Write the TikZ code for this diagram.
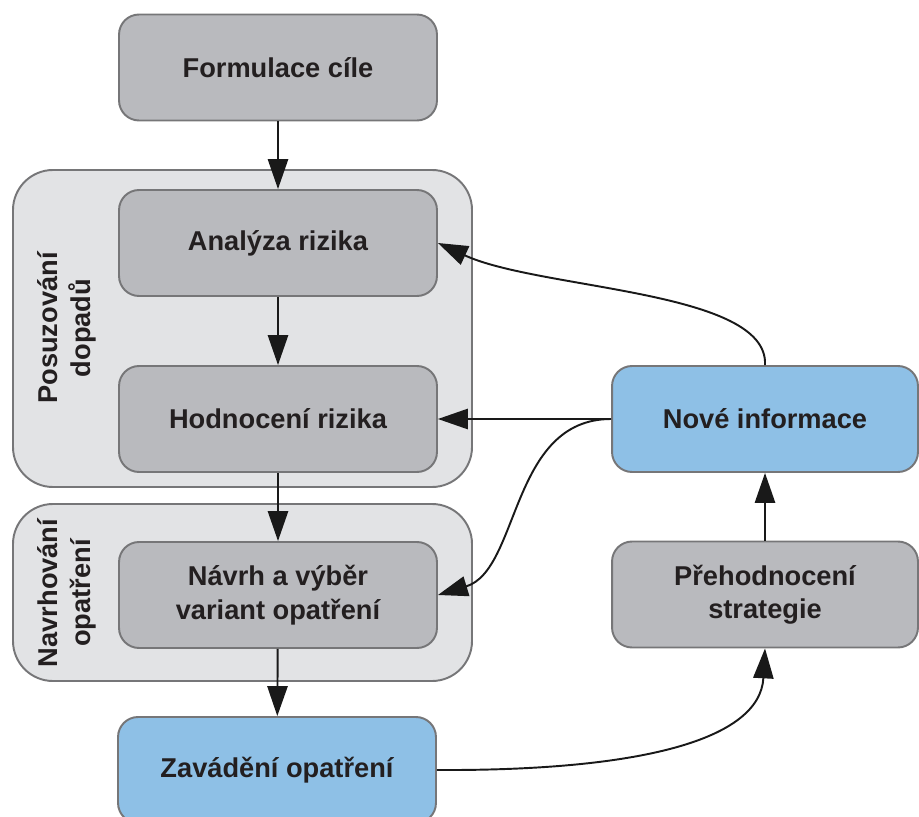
\documentclass[tikz,border=0pt]{standalone}
\usepackage{fontspec}
\setmainfont{Liberation Sans}
\usepackage{xcolor}
\usetikzlibrary{arrows.meta}
\definecolor{boxgray}{RGB}{185,186,190}
\definecolor{grpgray}{RGB}{226,227,229}
\definecolor{boxblue}{RGB}{142,192,230}
\definecolor{edgegray}{RGB}{118,118,120}
\definecolor{txtdark}{RGB}{35,31,32}

\begin{document}
\begin{tikzpicture}[x=0.02cm,y=-0.02cm,
    box/.style={draw=edgegray, line width=1.1pt, fill=boxgray, rounded corners=0.4cm,
      minimum width=6.36cm, minimum height=2.12cm, inner sep=0pt, align=center,
      text=txtdark, font=\bfseries\fontsize{15.5}{19}\selectfont},
    bluebox/.style={box, fill=boxblue},
    grp/.style={draw=edgegray, line width=1.1pt, fill=grpgray, rounded corners=0.8cm},
    grplabel/.style={rotate=90, align=center, text=txtdark,
      font=\bfseries\fontsize{15.5}{19}\selectfont},
    link/.style={line width=1.1pt, black!90, -{Triangle[length=17pt,width=11.5pt]}}]
        \useasboundingbox (0,0) rectangle (919,817);
        % groups
        \draw[grp] (13,170) rectangle (472,487);
        \draw[grp] (13,504) rectangle (472,681);
        \node[grplabel] (posLbl) at (67,328) {Posuzování\\dopadů};
        \node[grplabel] (navLbl) at (67,593) {Navrhování\\opatření};
        % steps
        \node[box] (formulace) at (278,67.5) {Formulace cíle};
        \node[box] (analyza) at (278,243) {Analýza rizika};
        \node[box] (hodnoceni) at (278,419) {Hodnocení rizika};
        \node[box] (navrh) at (278,595) {Návrh a výběr\\variant opatření};
        \node[bluebox] (zavadeni) at (277,770) {Zavádění opatření};
        \node[bluebox, minimum width=6.12cm] (nove) at (765,419) {Nové informace};
        \node[box, minimum width=6.12cm] (prehod) at (765,594.5) {Přehodnocení\\strategie};
        % connectors
        \draw[link] (formulace) -- (analyza);
        \draw[link] (analyza) -- (hodnoceni);
        \draw[link] (hodnoceni) -- (navrh);
        \draw[link] (navrh) -- (zavadeni);
        \draw[link] (prehod) -- (nove);
        \draw[link] (nove) -- (hodnoceni);
        \draw[link] (nove.north) .. controls (769,290) and (540,290) .. (analyza.east);
        \draw[link] (nove.west) .. controls (510,419) and (520,570) .. (navrh.east);
        \draw[link] (zavadeni.east) .. controls (640,771) and (760,740) .. (prehod.south);
\end{tikzpicture}
\end{document}
